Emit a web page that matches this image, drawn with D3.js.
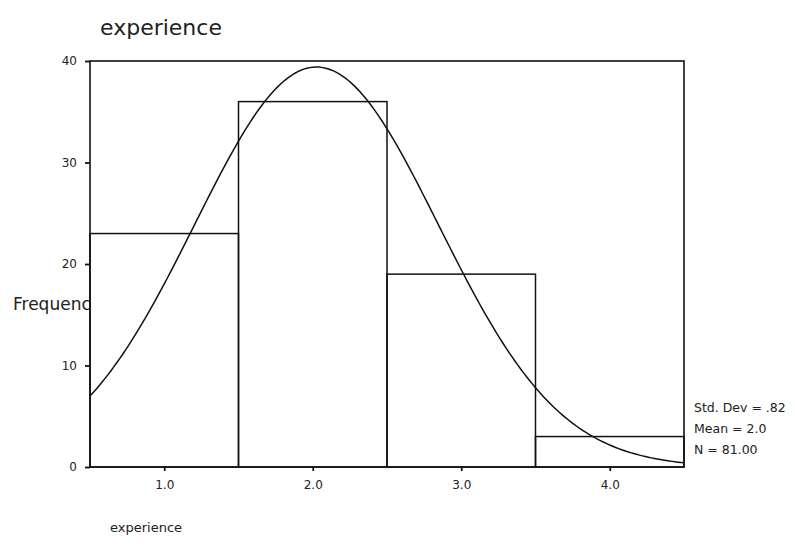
<!DOCTYPE html>
<html>
<head>
<meta charset="utf-8">
<script src="https://cdn.jsdelivr.net/npm/d3@7"></script>
<style>
  body { margin: 0; background: #fff; }
  svg text { font-family: "DejaVu Sans", Verdana, sans-serif; fill: #222; }
</style>
</head>
<body>
<div id="chart"></div>
<script>
var width = 796,
    height = 542;

// histogram bins (midpoints) and counts
var binMids = [1.0, 2.0, 3.0, 4.0];
var counts = [23, 36, 19, 3];
var xTicks = [1.0, 2.0, 3.0, 4.0];
var yTicks = [0, 10, 20, 30, 40];
var stats = { sd: 0.82, mean: 2.025, n: 81 };
var statLabels = ["Std. Dev = .82", "Mean = 2.0", "N = 81.00"];

var margin = { left: 90, top: 61, right: 112, bottom: 75 };

var x = d3.scaleLinear()
    .domain([0.5, 4.5])
    .range([margin.left, width - margin.right]);

var y = d3.scaleLinear()
    .domain([0, 40])
    .range([height - margin.bottom, margin.top]);

var svg = d3.select("#chart").append("svg")
    .attr("width", width)
    .attr("height", height);

// title
svg.append("text")
    .attr("x", 100)
    .attr("y", 35)
    .style("font-size", "22px")
    .text("experience");

// y label, clipped by the plot area drawn on top
svg.append("text")
    .attr("x", 13)
    .attr("y", 310)
    .style("font-size", "17px")
    .text("Frequency");

svg.append("rect")
    .attr("x", x(0.5))
    .attr("y", y(40))
    .attr("width", x(4.5) - x(0.5))
    .attr("height", y(0) - y(40))
    .attr("fill", "#fff")
    .attr("stroke", "#111")
    .attr("stroke-width", 1.6);

// bars
svg.selectAll(".bar")
    .data(binMids)
    .enter().append("rect")
    .attr("class", "bar")
    .attr("x", function(d) { return x(d - 0.5); })
    .attr("y", function(d, i) { return y(counts[i]); })
    .attr("width", function(d) { return x(d + 0.5) - x(d - 0.5); })
    .attr("height", function(d, i) { return y(0) - y(counts[i]); })
    .attr("fill", "none")
    .attr("stroke", "#111")
    .attr("stroke-width", 1.5);

// normal curve from the stats
var curvePts = d3.range(0.5, 4.501, 0.02).map(function(v) {
  var z = (v - stats.mean) / stats.sd;
  return [v, stats.n / (stats.sd * Math.sqrt(2 * Math.PI)) * Math.exp(-0.5 * z * z)];
});

svg.append("path")
    .datum(curvePts)
    .attr("fill", "none")
    .attr("stroke", "#111")
    .attr("stroke-width", 1.5)
    .attr("d", d3.line()
      .x(function(d) { return x(d[0]); })
      .y(function(d) { return y(d[1]); }));

// axes
var yAxis = svg.append("g")
    .attr("transform", "translate(" + x(0.5) + ",0)")
    .call(d3.axisLeft(y).tickValues(yTicks).tickSize(5).tickPadding(8).tickFormat(d3.format("d")));

var xAxis = svg.append("g")
    .attr("transform", "translate(0," + y(0) + ")")
    .call(d3.axisBottom(x).tickValues(xTicks).tickSize(4).tickPadding(9).tickFormat(d3.format(".1f")));

[yAxis, xAxis].forEach(function(a) {
  a.select(".domain").remove();
  a.selectAll("line").attr("stroke", "#111").attr("stroke-width", 1.8);
  a.selectAll("text")
    .style("font-size", "12px")
    .style("font-family", "\"DejaVu Sans\", Verdana, sans-serif")
    .attr("fill", "#222");
});

// stats box
svg.selectAll(".stat")
    .data(statLabels)
    .enter().append("text")
    .attr("class", "stat")
    .attr("x", 694)
    .attr("y", function(d, i) { return 412 + i * 21; })
    .style("font-size", "12.5px")
    .text(function(d) { return d; });

// bottom label
svg.append("text")
    .attr("x", 110)
    .attr("y", 532)
    .style("font-size", "13px")
    .text("experience");
</script>
</body>
</html>
